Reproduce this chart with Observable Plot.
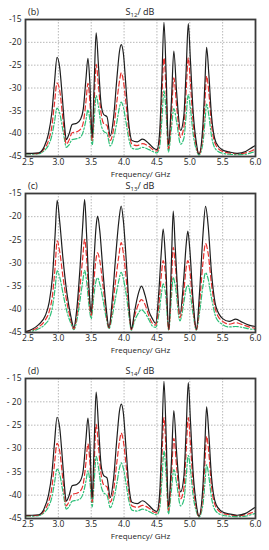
<!DOCTYPE html>
<html><head><meta charset="utf-8">
<script src="https://cdn.jsdelivr.net/npm/d3@7"></script>
<script src="https://cdn.jsdelivr.net/npm/@observablehq/plot@0.6"></script>
<style>
body{margin:0;background:#fff;}
#wrap{position:relative;width:269px;height:550px;font-family:"Open Sans",sans-serif;overflow:hidden;}
.panel{position:absolute;left:0;}
.ttl{position:absolute;font-size:9px;line-height:9px;color:#222;white-space:nowrap;}
.ttl sub{font-size:6px;vertical-align:-2px;line-height:0;}
</style></head><body><div id="wrap"></div><script>
// ---------- data ----------
const xTicks = [2.5, 3.0, 3.5, 4.0, 4.5, 5.0, 5.5, 6.0];
const yTicks = [-45, -40, -35, -30, -25, -20, -15];

// Panel (b) S12
const fB = [2.5,2.6,2.7,2.78,2.85,2.9,2.94,2.98,3.02,3.06,3.09,3.12,3.16,3.21,3.28,3.34,3.38,3.42,3.45,3.48,3.515,3.545,3.575,3.61,3.65,3.69,3.74,3.79,3.84,3.89,3.93,3.957,3.99,4.03,4.07,4.12,4.2,4.28,4.38,4.45,4.5,4.54,4.575,4.607,4.64,4.675,4.72,4.757,4.8,4.86,4.91,4.945,4.977,5.01,5.05,5.1,5.14,5.2,5.23,5.256,5.29,5.33,5.4,5.5,5.6,5.72,5.85,5.95,6.0];
const blackB = [-44.3,-44.3,-44.2,-43.0,-40,-35.5,-29,-23.3,-25.5,-32,-37.5,-41.3,-40.2,-38,-37.7,-36.8,-34.5,-28,-23.5,-29,-40.8,-29,-17.9,-25,-33.5,-35.8,-36.3,-40.5,-36.5,-28,-22,-20.5,-22.5,-30,-37.5,-41.5,-41.8,-41.2,-42.2,-43.2,-43.5,-40,-28,-15.6,-27,-42.5,-33,-21.9,-31,-39.3,-36,-26,-15.9,-24,-35,-42,-44.5,-38,-29,-21.1,-27,-36,-42,-43.6,-44,-44.3,-43.9,-43,-42.6];
const redB = [-44.4,-44.4,-44.3,-43.4,-41.5,-38.5,-33.5,-28.9,-30.5,-35.5,-39.5,-42.3,-41.5,-39.8,-39.6,-39,-37.5,-33,-29,-33,-41.5,-33,-24.8,-29.5,-35.5,-37.8,-38.2,-41.5,-39,-33,-28.5,-26.7,-28.5,-33.5,-39,-42.3,-42.6,-42.2,-42.8,-43.6,-43.8,-41.5,-32,-23.4,-31,-43.3,-36,-27.8,-34,-40.8,-38.5,-30.5,-23.4,-29,-37.5,-42.8,-44.5,-40,-33,-27.4,-31,-38,-42.6,-43.9,-44.2,-44.4,-44.2,-43.7,-43.4];
const greenB = [-44.5,-44.5,-44.4,-43.8,-42.5,-40.5,-37.5,-34.4,-35.5,-38.5,-41,-43,-42.5,-41.3,-41.1,-40.7,-39.5,-37,-34.8,-37,-42.5,-37,-31.7,-34,-38,-39.5,-40,-42.7,-41,-37.5,-34.2,-33.1,-34.3,-37.5,-41,-43.2,-43.4,-43,-43.5,-44,-44.2,-43,-37,-30.6,-35.5,-44,-39,-34.5,-37.5,-42.3,-41,-36,-31.5,-34.5,-40,-43.5,-44.7,-42,-37.5,-33.5,-36,-40.5,-43.5,-44.3,-44.5,-44.6,-44.5,-44.1,-43.9];

// Panel (c) S13
const fC = [2.5,2.6,2.7,2.8,2.86,2.91,2.95,2.982,3.02,3.07,3.13,3.19,3.235,3.28,3.33,3.37,3.40,3.43,3.465,3.5,3.54,3.575,3.597,3.63,3.68,3.73,3.77,3.82,3.87,3.92,3.956,3.99,4.04,4.08,4.11,4.16,4.21,4.265,4.32,4.38,4.43,4.48,4.53,4.565,4.595,4.63,4.68,4.72,4.748,4.78,4.85,4.91,4.945,4.97,5.0,5.05,5.1,5.15,5.2,5.24,5.28,5.33,5.4,5.5,5.6,5.7,5.8,5.9,6.0];
const blackC = [-44.8,-44.3,-43.3,-41.4,-38.5,-33,-24,-16.5,-21,-29,-36.5,-41.5,-43.9,-40,-31,-22,-16.3,-24,-35,-40.7,-30,-22,-19.9,-23,-32,-40,-43.9,-38,-29,-21,-17.7,-21,-31,-40,-44.3,-40.5,-37,-35,-37,-40.5,-42,-43,-36,-28,-22.7,-29,-44.3,-30,-18.8,-27,-41,-33,-26,-23.1,-27,-38,-44.3,-36,-24,-17.8,-22,-32,-39.5,-42,-42.6,-42.1,-42.8,-43.4,-43.7];
const redC = [-44.9,-44.5,-43.8,-42.3,-40.5,-37,-31,-25.2,-27.5,-33,-38.5,-42.3,-44.2,-41.5,-35,-29,-24.9,-29,-37,-41.3,-34,-29,-27.8,-29.5,-35,-41,-44,-40,-34,-28.5,-25.6,-28,-34.5,-41,-44.4,-41.5,-39.2,-37.9,-39,-41.5,-43,-43.4,-39,-33,-29.5,-32.5,-44.4,-34.5,-26.6,-30.5,-41.8,-36,-31,-29.5,-31.5,-39.5,-44.4,-38.5,-30,-25.8,-28,-34.5,-40.5,-42.6,-43.2,-42.9,-43.3,-43.8,-44.1];
const greenC = [-45,-44.7,-44.2,-43.2,-42,-39.5,-35.5,-31.7,-33,-36.5,-40.5,-43,-44.4,-42.5,-38,-34,-31.6,-34,-39,-42,-37,-33.8,-33.2,-34.5,-38,-42,-44.2,-41.5,-37.5,-33.8,-32,-33.5,-37.5,-42,-44.5,-42.5,-41,-40.1,-40.8,-42.3,-43.6,-43.9,-41,-37,-34.5,-36.5,-44.5,-37.5,-33.1,-35,-42.5,-38.5,-35.5,-34.8,-36,-41,-44.5,-40.5,-35,-32.1,-33.5,-37.5,-41.8,-43.3,-43.8,-43.7,-43.9,-44.2,-44.4];

// Panel (d) S14
const fD = [2.5,2.6,2.7,2.78,2.85,2.9,2.94,2.98,3.02,3.06,3.09,3.12,3.16,3.21,3.28,3.34,3.38,3.42,3.45,3.48,3.515,3.545,3.575,3.61,3.65,3.69,3.74,3.79,3.84,3.89,3.93,3.957,3.99,4.03,4.07,4.12,4.2,4.28,4.38,4.45,4.5,4.54,4.575,4.607,4.64,4.675,4.72,4.757,4.8,4.86,4.91,4.945,4.977,5.01,5.05,5.1,5.14,5.2,5.23,5.256,5.29,5.33,5.4,5.5,5.6,5.72,5.85,5.95,6.0];
const blackD = [-44.3,-44.3,-44.2,-43.0,-40,-35.5,-29,-23.3,-25.5,-32,-37.5,-41.3,-40.2,-38,-37.7,-36.8,-34.5,-28,-23.5,-29,-40.8,-29,-17.9,-25,-33.5,-35.8,-36.3,-40.5,-36.5,-28,-22,-20.5,-22.5,-30,-37.5,-41.5,-41.8,-41.2,-42.2,-43.2,-43.5,-40,-28,-15.6,-27,-42.5,-33,-21.9,-31,-39.3,-36,-26,-15.9,-24,-35,-42,-44.5,-38,-29,-21.1,-27,-36,-42,-43.6,-44,-44.3,-43.9,-43,-42.6];
const redD = [-44.4,-44.4,-44.3,-43.4,-41.5,-38.5,-33.5,-28.9,-30.5,-35.5,-39.5,-42.3,-41.5,-39.8,-39.6,-39,-37.5,-33,-29,-33,-41.5,-33,-24.8,-29.5,-35.5,-37.8,-38.2,-41.5,-39,-33,-28.5,-26.7,-28.5,-33.5,-39,-42.3,-42.6,-42.2,-42.8,-43.6,-43.8,-41.5,-32,-23.4,-31,-43.3,-36,-27.8,-34,-40.8,-38.5,-30.5,-23.4,-29,-37.5,-42.8,-44.5,-40,-33,-27.4,-31,-38,-42.6,-43.9,-44.2,-44.4,-44.2,-43.7,-43.4];
const greenD = [-44.5,-44.5,-44.4,-43.8,-42.5,-40.5,-37.5,-34.4,-35.5,-38.5,-41,-43,-42.5,-41.3,-41.1,-40.7,-39.5,-37,-34.8,-37,-42.5,-37,-31.7,-34,-38,-39.5,-40,-42.7,-41,-37.5,-34.2,-33.1,-34.3,-37.5,-41,-43.2,-43.4,-43,-43.5,-44,-44.2,-43,-37,-30.6,-35.5,-44,-39,-34.5,-37.5,-42.3,-41,-36,-31.5,-34.5,-40,-43.5,-44.7,-42,-37.5,-33.5,-36,-40.5,-43.5,-44.3,-44.5,-44.6,-44.5,-44.1,-43.9];

// ---------- drawing ----------
const W = 269, frameL = 25, frameR = 255;
const wrap = document.getElementById("wrap");

function makePanel(freq, black, red, green, frameTop, frameBottom, tag, sub, yfmt) {
  const mt = 3, mb = 30;
  const h = frameBottom - frameTop + mt + mb;
  const rows = s => freq.map((f, i) => ({f, v: s[i]}));
  const common = {x: "f", y: "v", curve: "monotone-x", strokeWidth: 1.2};
  const xfmt = d => d.toFixed(1);
  const plot = Plot.plot({
    width: W, height: h,
    marginLeft: frameL, marginRight: W - frameR, marginTop: mt, marginBottom: mb,
    style: {fontFamily: "'Open Sans', sans-serif", fontSize: "8.5px", color: "#222", background: "transparent", overflow: "visible"},
    x: {domain: [2.5, 6]},
    y: {domain: [-45, -15]},
    marks: [
      Plot.gridX(xTicks, {stroke: "#b8b8b8", strokeOpacity: 1, strokeDasharray: "1.5,1.5"}),
      Plot.gridY(yTicks, {stroke: "#b8b8b8", strokeOpacity: 1, strokeDasharray: "1.5,1.5"}),
      Plot.line(rows(green), {...common, stroke: "#2dbf78", strokeDasharray: "5,2,1.5,2"}),
      Plot.line(rows(red), {...common, stroke: "#e8302e", strokeDasharray: "5,3"}),
      Plot.line(rows(black), {...common, stroke: "#1e1e1e"}),
      Plot.frame({stroke: "#3a3a3a", strokeWidth: 1.8}),
      Plot.axisX(xTicks.slice(0, 1), {tickSize: 0, tickPadding: 2, dx: 2.5, tickFormat: xfmt, label: null}),
      Plot.axisX(xTicks.slice(1), {tickSize: 0, tickPadding: 2, tickFormat: xfmt, label: null}),
      Plot.axisY(yTicks, {tickSize: 0, tickPadding: 4, tickFormat: yfmt, label: null}),
      Plot.text(["Frequency/ GHz"], {text: d => d, frameAnchor: "bottom", dy: 20, fontSize: 8, fill: "#222"})
    ]
  });
  plot.classList.add("panel");
  plot.style.top = (frameTop - mt) + "px";
  wrap.appendChild(plot);

  const t1 = document.createElement("div");
  t1.className = "ttl";
  t1.style.left = "28px";
  t1.style.top = (frameTop - 12) + "px";
  t1.textContent = tag;
  wrap.appendChild(t1);

  const t2 = document.createElement("div");
  t2.className = "ttl";
  t2.style.left = ((frameL + frameR) / 2) + "px";
  t2.style.transform = "translateX(-50%)";
  t2.style.top = (frameTop - 12) + "px";
  t2.innerHTML = "S<sub>" + sub + "</sub>/ dB";
  wrap.appendChild(t2);
}

makePanel(fB, blackB, redB, greenB, 19, 156, "(b)", "12", d => "-" + Math.abs(d));
makePanel(fC, blackC, redC, greenC, 193, 332, "(c)", "13", d => (d === -35 ? "- " : "-") + Math.abs(d));
makePanel(fD, blackD, redD, greenD, 378, 518, "(d)", "14", d => (d >= -35 ? "- " : "-") + Math.abs(d));
</script></body></html>
